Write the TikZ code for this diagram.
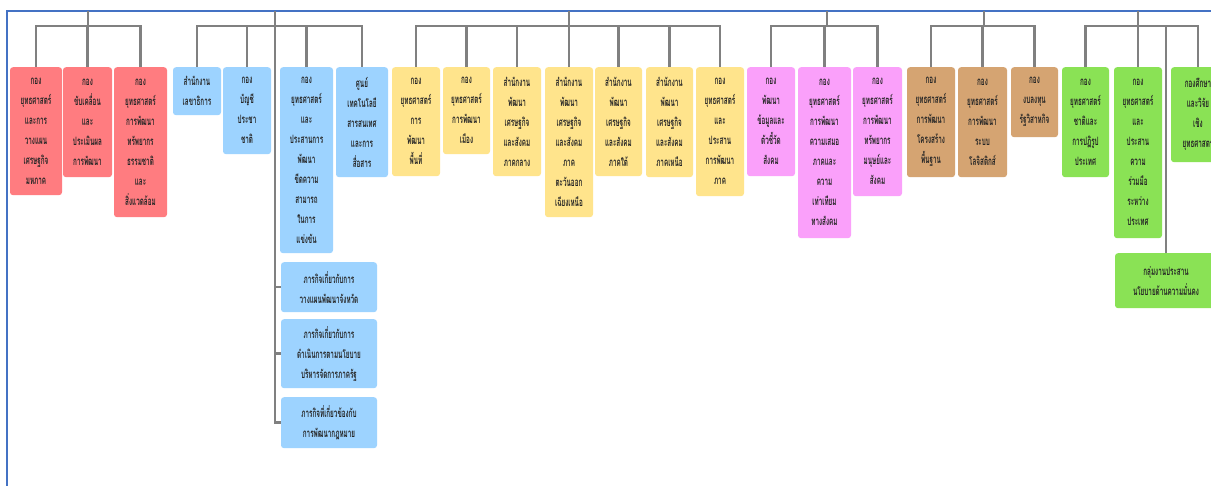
\documentclass[tikz,border=0pt]{standalone}
\usepackage{fontspec}
\newfontfamily\thaifont[Script=Thai,FakeStretch=0.55]{Loma}
\usetikzlibrary{calc}
\definecolor{frameblue}{HTML}{4472C4}
\definecolor{linegray}{HTML}{808080}
\definecolor{boxred}{HTML}{FF7C80}
\definecolor{boxblue}{HTML}{9DD3FF}
\definecolor{boxyellow}{HTML}{FFE48C}
\definecolor{boxpink}{HTML}{FAA0FA}
\definecolor{boxbrown}{HTML}{D5A472}
\definecolor{boxgreen}{HTML}{8AE255}

\begin{document}
\begin{tikzpicture}[x=1pt,y=-1pt,
  box/.style={anchor=north,rounded corners=3pt,inner sep=0pt,align=center,
    font=\thaifont\bfseries\fontsize{11.5}{20}\selectfont,text=black!85},
  conn/.style={draw=linegray,line width=2.4pt}]
\useasboundingbox (0,0) rectangle (1211,486);
\clip (0,0) rectangle (1211,486);
\fill[white] (0,0) rectangle (1211,486);
\draw[frameblue,line width=2pt] (7,490) -- (7,11) -- (1215,11);
% group 1
\node[box,fill=boxred,minimum width=52pt,minimum height=128pt] (r1) at (36,67) {กอง\\ยุทธศาสตร์\\และการ\\วางแผน\\เศรษฐกิจ\\มหภาค};
\node[box,fill=boxred,minimum width=49pt,minimum height=110pt] (r2) at (87.5,67) {กอง\\ขับเคลื่อน\\และ\\ประเมินผล\\การพัฒนา};
\node[box,fill=boxred,minimum width=53pt,minimum height=150pt] (r3) at (140.5,67) {กอง\\ยุทธศาสตร์\\การพัฒนา\\ทรัพยากร\\ธรรมชาติ\\และ\\สิ่งแวดล้อม};
% group 2
\node[box,fill=boxblue,minimum width=48pt,minimum height=48pt] (b1) at (197,67) {สำนักงาน\\เลขาธิการ};
\node[box,fill=boxblue,minimum width=48pt,minimum height=87pt] (b2) at (247,67) {กอง\\บัญชี\\ประชา\\ชาติ};
\node[box,fill=boxblue,minimum width=53pt,minimum height=186pt] (b3) at (306.5,67) {กอง\\ยุทธศาสตร์\\และ\\ประสานการ\\พัฒนา\\ขีดความ\\สามารถ\\ในการ\\แข่งขัน};
\node[box,fill=boxblue,minimum width=52pt,minimum height=110pt] (b4) at (362,67) {ศูนย์\\เทคโนโลยี\\สารสนเทศ\\และการ\\สื่อสาร};
\node[box,fill=boxblue,minimum width=96pt,minimum height=50pt] (b5) at (329,262) {ภารกิจเกี่ยวกับการ\\วางแผนพัฒนาจังหวัด};
\node[box,fill=boxblue,minimum width=96pt,minimum height=69pt] (b6) at (329,319) {ภารกิจเกี่ยวกับการ\\ดำเนินการตามนโยบาย\\บริหารจัดการภาครัฐ};
\node[box,fill=boxblue,minimum width=96pt,minimum height=51pt] (b7) at (329,397) {ภารกิจที่เกี่ยวข้องกับ\\การพัฒนากฎหมาย};
% group 3
\node[box,fill=boxyellow,minimum width=48pt,minimum height=109pt] (y1) at (416,67) {กอง\\ยุทธศาสตร์\\การ\\พัฒนา\\พื้นที่};
\node[box,fill=boxyellow,minimum width=47pt,minimum height=87pt] (y2) at (466.5,67) {กอง\\ยุทธศาสตร์\\การพัฒนา\\เมือง};
\node[box,fill=boxyellow,minimum width=48pt,minimum height=109pt] (y3) at (517,67) {สำนักงาน\\พัฒนา\\เศรษฐกิจ\\และสังคม\\ภาคกลาง};
\node[box,fill=boxyellow,minimum width=48pt,minimum height=150pt] (y4) at (569,67) {สำนักงาน\\พัฒนา\\เศรษฐกิจ\\และสังคม\\ภาค\\ตะวันออก\\เฉียงเหนือ};
\node[box,fill=boxyellow,minimum width=47pt,minimum height=109pt] (y5) at (618.5,67) {สำนักงาน\\พัฒนา\\เศรษฐกิจ\\และสังคม\\ภาคใต้};
\node[box,fill=boxyellow,minimum width=47pt,minimum height=110pt] (y6) at (669.5,67) {สำนักงาน\\พัฒนา\\เศรษฐกิจ\\และสังคม\\ภาคเหนือ};
\node[box,fill=boxyellow,minimum width=48pt,minimum height=129pt] (y7) at (720,67) {กอง\\ยุทธศาสตร์\\และ\\ประสาน\\การพัฒนา\\ภาค};
% group 4
\node[box,fill=boxpink,minimum width=48pt,minimum height=109pt] (p1) at (771,67) {กอง\\พัฒนา\\ข้อมูลและ\\ตัวชี้วัด\\สังคม};
\node[box,fill=boxpink,minimum width=53pt,minimum height=171pt] (p2) at (824.5,67) {กอง\\ยุทธศาสตร์\\การพัฒนา\\ความเสมอ\\ภาคและ\\ความ\\เท่าเทียม\\ทางสังคม};
\node[box,fill=boxpink,minimum width=49pt,minimum height=129pt] (p3) at (877.5,67) {กอง\\ยุทธศาสตร์\\การพัฒนา\\ทรัพยากร\\มนุษย์และ\\สังคม};
% group 5
\node[box,fill=boxbrown,minimum width=48pt,minimum height=110pt] (n1) at (931,67) {กอง\\ยุทธศาสตร์\\การพัฒนา\\โครงสร้าง\\พื้นฐาน};
\node[box,fill=boxbrown,minimum width=49pt,minimum height=110pt] (n2) at (982.5,67) {กอง\\ยุทธศาสตร์\\การพัฒนา\\ระบบ\\โลจิสติกส์};
\node[box,fill=boxbrown,minimum width=47pt,minimum height=70pt] (n3) at (1034.5,67) {กอง\\งบลงทุน\\รัฐวิสาหกิจ};
% group 6
\node[box,fill=boxgreen,minimum width=47pt,minimum height=110pt] (g1) at (1085.5,67) {กอง\\ยุทธศาสตร์\\ชาติและ\\การปฏิรูป\\ประเทศ};
\node[box,fill=boxgreen,minimum width=48pt,minimum height=171pt] (g2) at (1138,67) {กอง\\ยุทธศาสตร์\\และ\\ประสาน\\ความ\\ร่วมมือ\\ระหว่าง\\ประเทศ};
\node[box,fill=boxgreen,minimum width=54pt,minimum height=95pt] (g3) at (1198,67) {กองศึกษา\\และวิจัย\\เชิง\\ยุทธศาสตร์};
\node[box,fill=boxgreen,minimum width=102pt,minimum height=55pt] (g4) at (1166,253) {กลุ่มงานประสาน\\นโยบายด้านความมั่นคง};
% tree lines
\coordinate (rT) at (88,11);   \coordinate (rJ) at (88,26);
\coordinate (bT) at (275,11);  \coordinate (bJ) at (275,26);
\coordinate (yT) at (569,11);  \coordinate (yJ) at (569,26);
\coordinate (pT) at (827,11);  \coordinate (pJ) at (827,26);
\coordinate (nT) at (984,11);  \coordinate (nJ) at (984,26);
\coordinate (gT) at (1138,11); \coordinate (gJ) at (1138,26);
\foreach \g/\list in {r/{r1,r2,r3},b/{b1,b2,b3,b4},y/{y1,y2,y3,y4,y5,y6,y7},p/{p1,p2,p3},n/{n1,n2,n3},g/{g1,g2,g3,g4}}{
  \draw[conn] (\g T) -- (\g J);
  \foreach \k in \list
    \draw[conn] (\g J) -| (\k.north);
}
\draw[conn] (bJ) |- (b7.west);
\draw[conn] (b5.west -| bJ) -- (b5.west);
\draw[conn] (b6.west -| bJ) -- (b6.west);
\end{tikzpicture}
\end{document}
